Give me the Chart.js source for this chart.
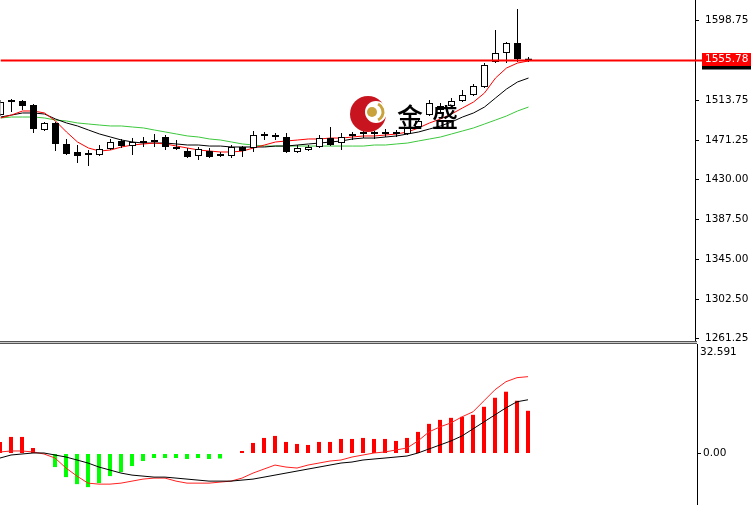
<!DOCTYPE html>
<html>
<head>
<meta charset="utf-8">
<script src="https://cdn.jsdelivr.net/npm/chart.js@4.4.1/dist/chart.umd.min.js"></script>
<style>
body { margin:0; background:#fff; width:753px; height:505px; overflow:hidden; position:relative; }
#top { position:absolute; left:0; top:0; }
#bot { position:absolute; left:0; top:344px; }
#sep { position:absolute; left:0; top:341px; width:697px; height:1px; border-top:1px solid #555; border-bottom:1px solid #555; background:#c8c8c8; }
</style>
</head>
<body>
<canvas id="top" width="753" height="341"></canvas>
<div id="sep"></div>
<canvas id="bot" width="753" height="161"></canvas>
<script>
// candles
var open = [1498.0,1512.8,1512.8,1508.6,1482.0,1489.5,1467.2,1458.7,1456.6,1455.5,
  1461.9,1470.4,1465.1,1468.2,1469.3,1474.6,1462.9,1459.7,1454.4,1459.7,
  1455.5,1454.4,1464.0,1462.9,1475.7,1474.6,1474.6,1458.7,1460.8,1464.0,
  1473.5,1468.2,1475.7,1477.8,1477.8,1477.8,1477.8,1477.8,1485.2,1498.0,
  1503.3,1507.5,1512.8,1519.2,1527.7,1554.2,1563.8,1574.4,1557.9];
var high = [1513.9,1514.9,1513.9,1509.6,1490.5,1490.5,1472.5,1466.1,1460.8,1466.1,
  1472.5,1472.5,1473.5,1474.6,1477.8,1476.7,1471.4,1462.9,1464.0,1462.9,
  1458.7,1466.1,1465.1,1480.9,1479.9,1478.9,1478.9,1466.1,1466.1,1476.7,
  1485.2,1478.9,1479.9,1482.0,1481.0,1483.1,1482.0,1485.2,1494.8,1513.9,
  1510.7,1516.0,1524.5,1530.9,1553.1,1588.2,1575.4,1610.5,1559.5];
var low = [1496.9,1501.1,1503.3,1478.9,1481.0,1459.7,1455.5,1447.0,1443.8,1454.4,
  1460.8,1462.9,1455.5,1464.0,1464.0,1460.8,1460.8,1452.3,1450.2,1452.3,
  1453.4,1452.3,1453.4,1458.7,1471.4,1471.4,1457.6,1457.6,1459.7,1462.9,
  1465.1,1460.8,1471.4,1473.5,1472.5,1474.6,1474.6,1476.7,1484.2,1496.9,
  1499.0,1505.4,1511.8,1518.1,1526.6,1553.1,1553.1,1554.2,1554.2];
var close = [1511.8,1511.8,1507.5,1483.1,1489.5,1467.2,1456.6,1454.4,1455.5,1461.9,
  1469.3,1465.1,1469.3,1469.3,1470.4,1464.0,1461.9,1453.4,1461.9,1453.4,
  1454.4,1464.0,1459.7,1476.7,1476.7,1475.7,1458.7,1462.9,1464.0,1473.5,
  1466.1,1474.6,1476.7,1478.9,1478.9,1479.9,1478.9,1484.2,1491.6,1510.7,
  1507.5,1512.8,1519.2,1528.7,1551.0,1563.8,1574.4,1557.4,1555.8];

// moving averages
var maRed = [1494.8,1497.9,1502.2,1502.2,1500.1,1491.6,1479.9,1469.3,1462.9,1459.7,
  1460.8,1464.0,1466.1,1467.2,1468.2,1467.2,1465.0,1462.9,1460.8,1459.7,
  1458.7,1458.7,1459.7,1462.9,1466.1,1469.3,1470.4,1471.4,1472.5,1472.5,
  1473.5,1473.5,1474.6,1475.7,1475.7,1476.7,1477.8,1479.9,1484.2,1489.5,
  1493.7,1499.0,1505.4,1511.7,1521.3,1537.2,1547.8,1553.1,1555.3];
var maBlack = [1495.8,1497.9,1500.1,1500.1,1499.0,1493.7,1489.5,1486.3,1482.0,1477.8,
  1474.6,1471.4,1469.3,1468.2,1468.2,1468.2,1467.2,1466.1,1466.1,1465.0,
  1465.0,1464.0,1464.0,1464.0,1464.0,1465.0,1465.0,1466.1,1467.2,1468.2,
  1469.3,1470.4,1472.5,1473.5,1473.5,1474.6,1475.7,1477.8,1479.9,1483.1,
  1486.3,1490.5,1495.8,1500.1,1506.4,1516.0,1525.5,1533.0,1537.2];
var maGreen = [1494.8,1495.8,1495.8,1495.8,1494.8,1492.6,1491.6,1489.5,1488.4,1487.3,
  1486.3,1486.3,1485.2,1484.2,1482.0,1479.9,1477.8,1475.7,1474.6,1472.5,
  1471.4,1469.3,1467.2,1466.1,1465.0,1465.0,1465.0,1465.0,1465.0,1465.0,
  1465.0,1465.0,1465.0,1465.0,1466.1,1466.1,1467.2,1468.2,1470.4,1472.5,
  1474.6,1477.8,1481.0,1484.2,1488.4,1492.6,1496.9,1502.2,1506.4];

// MACD panel
var macdHist = [3.44,4.93,4.93,1.64,-0.09,-4.04,-7.03,-9.12,-10.01,-8.82,
  -6.73,-5.53,-3.74,-2.24,-1.35,-1.35,-1.35,-1.64,-1.35,-1.64,
  -1.49,-0.15,0.75,3.14,4.63,5.23,3.44,2.84,2.54,3.44,
  3.44,4.33,4.33,4.63,4.33,4.33,3.74,4.63,6.43,8.82,
  10.01,10.61,10.91,11.51,13.90,16.59,18.39,15.70,12.71];
var macdDif = [0.45,0.75,0.75,0.45,-0.15,-1.35,-4.33,-6.73,-8.82,-9.12,
  -9.12,-8.82,-8.22,-7.62,-7.32,-7.32,-8.22,-8.82,-8.82,-8.82,
  -8.52,-8.22,-7.32,-5.83,-4.63,-3.44,-4.04,-4.33,-3.44,-2.84,
  -2.24,-1.94,-1.05,-0.45,0.15,0.45,1.05,1.64,3.74,6.43,
  7.92,9.12,10.91,12.41,15.70,18.98,21.38,22.57,22.87];
var macdDea = [-1.35,-0.45,-0.15,0.15,0.15,-0.45,-1.05,-1.94,-2.84,-4.04,
  -4.93,-5.83,-6.43,-6.73,-7.03,-7.03,-7.32,-7.62,-7.92,-8.22,
  -8.22,-8.22,-7.92,-7.62,-7.03,-6.43,-5.83,-5.23,-4.63,-4.04,
  -3.44,-2.84,-2.54,-1.94,-1.64,-1.35,-1.05,-0.75,0.15,1.35,
  2.54,3.74,5.23,7.32,9.42,11.51,13.60,15.40,15.99];

var priceTicks = [1261.25, 1302.50, 1345.00, 1387.50, 1430.00, 1471.25, 1513.75, 1556.25, 1598.75];
var macdTicks = [0];
var lastPrice = 1555.78;
var macdTop = 32.591;

var bars = open.map(function (v, i) { return i; });
var xTopMax = 694.5 / 11;
var xBotMax = 697 / 11;
var font = { family: 'DejaVu Sans', size: 10.5 };

function pts(arr) { return arr.map(function (v, i) { return { x: i, y: v }; }); }

var wicks = bars.map(function (i) { return { x: i, y: [low[i], high[i]] }; });
var bodies = bars.map(function (i) { return { x: i, y: [Math.min(open[i], close[i]), Math.max(open[i], close[i])] }; });
var bodyColors = bars.map(function (i) { return close[i] >= open[i] ? '#ffffff' : '#000000'; });

var logo = {
  id: 'logo',
  afterDatasetsDraw: function (chart) {
    var ctx = chart.ctx;
    ctx.save();
    ctx.fillStyle = '#c8141e';
    ctx.beginPath(); ctx.arc(368, 114, 18, 0, Math.PI * 2); ctx.fill();
    ctx.fillStyle = '#ffffff';
    ctx.beginPath(); ctx.arc(376, 112, 11, 0, Math.PI * 2); ctx.fill();
    ctx.strokeStyle = '#c9a23c'; ctx.lineWidth = 3;
    ctx.beginPath(); ctx.arc(374, 112, 9, -1.1, 1.1); ctx.stroke();
    ctx.fillStyle = '#c9a23c';
    ctx.beginPath(); ctx.arc(372, 112, 5, 0, Math.PI * 2); ctx.fill();
    ctx.fillStyle = '#000';
    ctx.font = '500 26px "Noto Sans CJK SC"';
    ctx.textAlign = 'center'; ctx.textBaseline = 'middle';
    ctx.fillText('金', 410, 117);
    ctx.fillText('盛', 445, 117);
    ctx.restore();
  }
};

var priceLabel = {
  id: 'priceLabel',
  afterDraw: function (chart) {
    var ctx = chart.ctx;
    var y = chart.scales.y.getPixelForValue(lastPrice);
    var r = chart.chartArea.right;
    ctx.save();
    ctx.fillStyle = '#ff0000';
    ctx.fillRect(r, y - 1, 8, 2);
    ctx.fillStyle = '#000';
    ctx.fillRect(702, y - 4, 49, 13);
    ctx.fillStyle = '#ff0000';
    ctx.fillRect(702, y - 7.5, 49, 13);
    ctx.fillStyle = '#fff';
    ctx.font = '10.5px "DejaVu Sans"';
    ctx.textBaseline = 'middle';
    ctx.fillText(lastPrice.toFixed(2), 705, y - 1);
    ctx.restore();
  }
};

var topLabel = {
  id: 'topLabel',
  afterDraw: function (chart) {
    var ctx = chart.ctx;
    ctx.save();
    ctx.fillStyle = '#000';
    ctx.font = '10.5px "DejaVu Sans"';
    ctx.textBaseline = 'middle';
    ctx.fillText(macdTop.toFixed(3), 700, 8);
    ctx.restore();
  }
};

new Chart(document.getElementById('top'), {
  type: 'bar',
  data: {
    datasets: [
      { type: 'line', data: pts(maGreen), borderColor: '#3cc83c', borderWidth: 1, pointRadius: 0, order: 5 },
      { type: 'line', data: pts(maBlack), borderColor: '#000000', borderWidth: 1, pointRadius: 0, order: 4 },
      { type: 'line', data: pts(maRed), borderColor: '#ff0000', borderWidth: 1, pointRadius: 0, order: 3 },
      { data: wicks, backgroundColor: '#000', barThickness: 1, grouped: false, inflateAmount: 0, order: 2 },
      { data: bodies, backgroundColor: bodyColors, borderColor: '#000', borderWidth: 1, borderSkipped: false,
        barThickness: 7, grouped: false, inflateAmount: 0, minBarLength: 2, order: 1 },
      { type: 'line', data: [{ x: 0, y: lastPrice }, { x: xTopMax, y: lastPrice }], borderColor: '#ff0000',
        borderWidth: 2, pointRadius: 0, order: 0 }
    ]
  },
  options: {
    responsive: false, animation: false, devicePixelRatio: 1,
    layout: { padding: { left: 0.5, top: 0, right: 0, bottom: 0 } },
    plugins: { legend: { display: false }, tooltip: { enabled: false } },
    scales: {
      x: { type: 'linear', display: false, offset: false, grid: { offset: false }, min: 0, max: xTopMax },
      y: {
        position: 'right', min: 1258.1, max: 1620,
        afterBuildTicks: function (s) { s.ticks = priceTicks.map(function (v) { return { value: v }; }); },
        afterFit: function (s) { s.width = 58; s.paddingTop = 0; s.paddingBottom = 0; },
        ticks: { font: font, color: '#000', padding: 6, callback: function (v) { return Number(v).toFixed(2); } },
        grid: { drawOnChartArea: false, tickLength: 4, color: '#000' },
        border: { color: '#000', width: 1 }
      }
    }
  },
  plugins: [logo, priceLabel]
});

new Chart(document.getElementById('bot'), {
  type: 'bar',
  data: {
    datasets: [
      { data: pts(macdHist), backgroundColor: macdHist.map(function (v) { return v >= 0 ? '#ff0000' : '#00ff00'; }),
        barThickness: 4, grouped: false, inflateAmount: 0, order: 3 },
      { type: 'line', data: pts(macdDif), borderColor: '#ff2020', borderWidth: 1, pointRadius: 0, order: 2 },
      { type: 'line', data: pts(macdDea), borderColor: '#000', borderWidth: 1, pointRadius: 0, order: 1 }
    ]
  },
  options: {
    responsive: false, animation: false, devicePixelRatio: 1,
    layout: { padding: 0 },
    plugins: { legend: { display: false }, tooltip: { enabled: false } },
    scales: {
      x: { type: 'linear', display: false, offset: false, grid: { offset: false }, min: 0, max: xBotMax },
      y: {
        position: 'right', min: -15.33, max: macdTop,
        afterBuildTicks: function (s) { s.ticks = macdTicks.map(function (v) { return { value: v }; }); },
        afterFit: function (s) { s.width = 56; s.paddingTop = 0; s.paddingBottom = 0; },
        ticks: { font: font, color: '#000', padding: 2, callback: function (v) { return Number(v).toFixed(2); } },
        grid: { drawOnChartArea: false, tickLength: 4, color: '#000' },
        border: { color: '#000', width: 1 }
      }
    }
  },
  plugins: [topLabel]
});
</script>
</body>
</html>
